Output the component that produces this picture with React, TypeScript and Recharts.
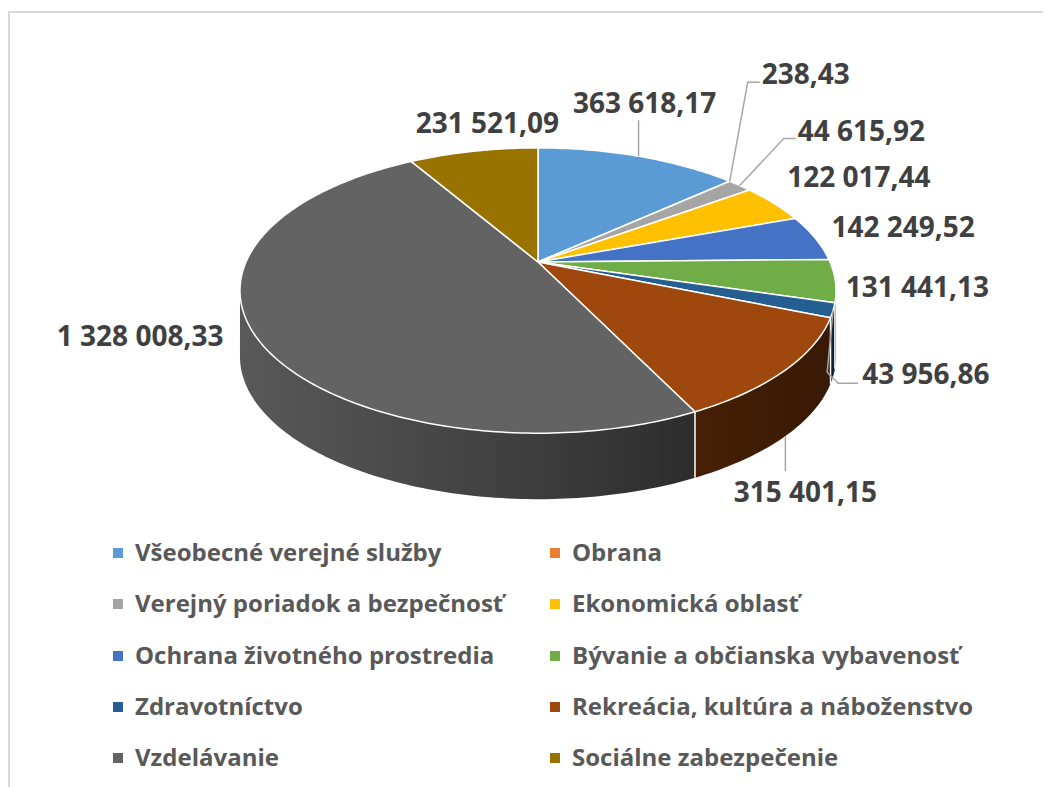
import { Legend, Pie, PieChart } from "recharts";

const categories = [
  "Všeobecné verejné služby",
  "Obrana",
  "Verejný poriadok a bezpečnosť",
  "Ekonomická oblasť",
  "Ochrana životného prostredia",
  "Bývanie a občianska vybavenosť",
  "Zdravotníctvo",
  "Rekreácia, kultúra a náboženstvo",
  "Vzdelávanie",
  "Sociálne zabezpečenie",
];
const values = [
  363618.17, 238.43, 44615.92, 122017.44, 142249.52, 131441.13, 43956.86, 315401.15, 1328008.33,
  231521.09,
];
const colors = [
  "#5B9BD5", "#ED7D31", "#A5A5A5", "#FFC000", "#4472C4",
  "#70AD47", "#255E91", "#9E480E", "#636363", "#997300",
];

// where each value label sits, relative to the rim point at the slice's mid angle
const labelLayout = [
  { dx: 6, dy: -53, anchor: "middle", leader: "up" },
  { dx: 32, dy: -107, anchor: "start", leader: "elbow" },
  { dx: 58, dy: -55, anchor: "start", leader: "elbow" },
  { dx: 85, dy: -26, anchor: "middle", leader: "" },
  { dx: 88, dy: -11, anchor: "middle", leader: "" },
  { dx: 82, dy: 6, anchor: "middle", leader: "" },
  { dx: 29, dy: 64, anchor: "start", leader: "hook" },
  { dx: 20, dy: 122, anchor: "middle", leader: "down" },
  { dx: -114, dy: 2, anchor: "middle", leader: "" },
  { dx: 14, dy: -28, anchor: "middle", leader: "" },
];

const data = categories.map((name, i) => ({ name, value: values[i] }));

const FONT = "'Open Sans', sans-serif";
const TILT = 0.469; // vertical squash of the disc
const PERSP = 0.2; // perspective strength
const DEPTH = 66;
const FRONT_START = (Math.acos(-PERSP) * 180) / Math.PI;
const FRONT_END = 360 - FRONT_START;

function formatSk(v: number) {
  const [int, dec] = v.toFixed(2).split(".");
  return int.replace(/\B(?=(\d{3})+(?!\d))/g, " ") + "," + dec;
}

// theta: degrees clockwise from 12 o'clock
function project(cx: number, cy: number, r: number, theta: number, dz = 0): [number, number] {
  const t = (theta * Math.PI) / 180;
  const u = Math.sin(t);
  const v = -Math.cos(t);
  const w = 1 - PERSP * v;
  return [cx + (r * u) / w, cy + (r * TILT * v) / w + dz];
}

function arcPoints(cx: number, cy: number, r: number, a: number, b: number, dz = 0) {
  const n = Math.max(2, Math.ceil(Math.abs(b - a)));
  const pts: [number, number][] = [];
  for (let i = 0; i <= n; i++) pts.push(project(cx, cy, r, a + ((b - a) * i) / n, dz));
  return pts;
}

function shade(hex: string, f: number) {
  const n = parseInt(hex.slice(1), 16);
  const c = [(n >> 16) & 255, (n >> 8) & 255, n & 255].map((x) => Math.round(x * f));
  return `rgb(${c[0]},${c[1]},${c[2]})`;
}

const toPath = (pts: [number, number][]) => pts.map((p) => `${p[0].toFixed(2)},${p[1].toFixed(2)}`).join(" L");

function renderSlice(props: any) {
  const { cx, cy, outerRadius, startAngle, endAngle, index } = props;
  const a = 90 - startAngle;
  const b = 90 - endAngle;
  const color = colors[index];
  const top = `M${cx},${cy} L${toPath(arcPoints(cx, cy, outerRadius, a, b))} Z`;

  const fa = Math.max(a, FRONT_START);
  const fb = Math.min(b, FRONT_END);
  let wall = null;
  if (fb > fa) {
    const upper = arcPoints(cx, cy, outerRadius, fa, fb);
    const lower = arcPoints(cx, cy, outerRadius, fb, fa, DEPTH);
    const gid = `wall-grad-${index}`;
    wall = (
      <>
        <defs>
          <linearGradient id={gid} gradientUnits="userSpaceOnUse" x1={cx - outerRadius * 1.03} x2={cx + outerRadius * 1.03} y1={0} y2={0}>
            <stop offset="0%" stopColor={shade(color, 0.9)} />
            <stop offset="50%" stopColor={shade(color, 0.62)} />
            <stop offset="75%" stopColor={shade(color, 0.45)} />
            <stop offset="100%" stopColor={shade(color, 0.35)} />
          </linearGradient>
        </defs>
        <path d={`M${toPath(upper)} L${toPath(lower)} Z`} fill={`url(#${gid})`} stroke="none" />
      </>
    );
  }
  let edge = null;
  if (a > FRONT_START && a < FRONT_END) {
    const [x1, y1] = project(cx, cy, outerRadius, a);
    const [, y2] = project(cx, cy, outerRadius, a, DEPTH);
    edge = <line x1={x1} y1={y1} x2={x1} y2={y2} stroke="#fff" strokeWidth={1.5} />;
  }
  return (
    <g key={`slice-${index}`}>
      {wall}
      {edge}
      <path d={top} fill={color} stroke="#fff" strokeWidth={1.5} strokeLinejoin="round" />
    </g>
  );
}

function renderValueLabel(props: any) {
  const { cx, cy, outerRadius, midAngle, index, value } = props;
  const lay = labelLayout[index];
  const [rx, ry] = project(cx, cy, outerRadius, 90 - midAngle);
  const lx = rx + lay.dx;
  const ly = ry + lay.dy;
  let leader = null;
  const ls = { stroke: "#a6a6a6", strokeWidth: 1.5, fill: "none" };
  if (lay.leader === "up") leader = <path d={`M${rx},${ry} L${rx},${ly + 17}`} {...ls} />;
  if (lay.leader === "down") leader = <path d={`M${rx},${ry + DEPTH} L${rx},${ly - 21}`} {...ls} />;
  if (lay.leader === "elbow")
    leader = <path d={`M${rx},${ry} L${lx - 14},${ly + 8} L${lx - 2},${ly + 8}`} {...ls} />;
  if (lay.leader === "hook")
    leader = (
      <path d={`M${rx},${ry} L${rx - 6},${ly - 2} L${rx + 5},${ly + 9} L${lx - 4},${ly + 9}`} {...ls} />
    );
  return (
    <g key={`label-${index}`}>
      {leader}
      <text x={lx} y={ly + 10} textAnchor={lay.anchor} fill="#404040" fontFamily={FONT} fontWeight={700} fontSize={28}>
        {formatSk(value)}
      </text>
    </g>
  );
}

// legend grid in the same order as the data (two columns)
function LegendGrid() {
  return (
    <div style={{ position: "relative", width: 1043, height: 260, fontFamily: FONT, fontWeight: 700, fontSize: 24, color: "#595959" }}>
      {categories.map((name, i) => {
        const col = i % 2;
        const row = Math.floor(i / 2);
        const c = 25 + row * 51.3;
        const mx = col === 0 ? 105 : 542;
        return (
          <div key={name}>
            <div style={{ position: "absolute", left: mx, top: c - 5, width: 10, height: 10, background: colors[i] }} />
            <div style={{ position: "absolute", left: mx + 22, top: c - 16, height: 30, lineHeight: "30px", whiteSpace: "nowrap" }}>
              {name}
            </div>
          </div>
        );
      })}
    </div>
  );
}

export default function App() {
  return (
    <div style={{ position: "relative", width: 1043, height: 779, overflow: "hidden", background: "#fff" }}>
      <div style={{ position: "absolute", left: 0, top: 3, width: 2000, height: 2000, border: "2px solid #d9d9d9" }} />
      <PieChart width={1043} height={779} margin={{ top: 0, right: 0, bottom: 0, left: 0 }}>
        <Pie
          data={data}
          dataKey="value"
          nameKey="name"
          cx={530}
          cy={254}
          outerRadius={292}
          startAngle={90}
          endAngle={-270}
          fill="none"
          stroke="none"
          label={renderSlice}
          labelLine={false}
          isAnimationActive={false}
        />
        <Pie
          data={data}
          dataKey="value"
          nameKey="name"
          cx={530}
          cy={254}
          outerRadius={292}
          startAngle={90}
          endAngle={-270}
          fill="none"
          stroke="none"
          legendType="none"
          label={renderValueLabel}
          labelLine={false}
          isAnimationActive={false}
        />
        <Legend content={LegendGrid} wrapperStyle={{ left: 0, top: 520, width: 1043, height: 260 }} />
      </PieChart>
    </div>
  );
}
